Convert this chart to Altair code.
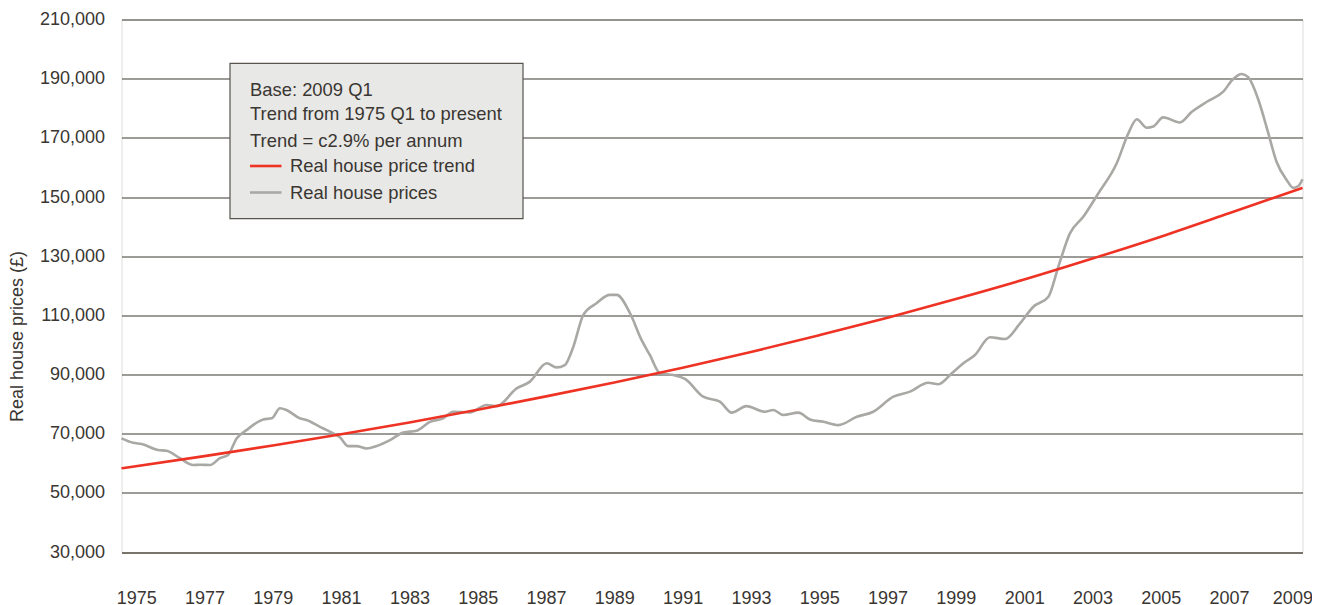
import altair as alt
import pandas as pd

# ---- data (values in £) ----
price_years = [1974.57, 1974.91, 1975.16, 1975.64, 1975.89, 1976.28, 1976.67, 1976.87, 1977.16, 1977.45,
               1977.69, 1977.94, 1978.23, 1978.72, 1978.97, 1979.21, 1979.40, 1979.79, 1979.99, 1980.38,
               1980.67, 1980.97, 1981.21, 1981.45, 1981.75, 1982.04, 1982.43, 1982.82, 1983.21, 1983.60,
               1983.99, 1984.28, 1984.77, 1985.26, 1985.55, 1986.14, 1986.53, 1987.02, 1987.31, 1987.55,
               1987.80, 1988.09, 1988.48, 1988.87, 1989.07, 1989.46, 1989.80, 1990.04, 1990.34, 1990.73,
               1991.07, 1991.60, 1992.09, 1992.44, 1992.87, 1993.41, 1993.65, 1993.95, 1994.39, 1994.73,
               1995.12, 1995.56, 1996.10, 1996.58, 1997.17, 1997.66, 1998.19, 1998.49, 1998.88, 1999.22,
               1999.56, 2000.00, 2000.44, 2000.88, 2001.27, 2001.71, 2002.00, 2002.34, 2002.73, 2003.17,
               2003.71, 2004.05, 2004.30, 2004.59, 2004.78, 2005.07, 2005.56, 2005.91, 2006.35, 2006.83,
               2007.12, 2007.37, 2007.56, 2007.86, 2008.15, 2008.39, 2008.69, 2008.88, 2009.03, 2009.15]
price_values = [68400, 66900, 66500, 64500, 64200, 61700, 59400, 59500, 59400, 61700,
                62800, 68400, 71200, 74800, 75200, 78600, 78000, 75200, 74600, 72300,
                70700, 68700, 65800, 65800, 65000, 65800, 67800, 70400, 71000, 74000,
                75200, 77400, 77200, 79700, 79300, 85300, 87600, 93800, 92400, 93200,
                99400, 110100, 114100, 116900, 116900, 110700, 101600, 96600, 90400, 89800,
                88500, 82500, 80800, 77100, 79300, 77400, 78000, 76300, 77100, 74800,
                74000, 72900, 75700, 77400, 82500, 84200, 87200, 86700, 90400, 93800,
                96600, 102600, 102000, 107300, 112900, 116300, 126400, 137700, 143300, 151200,
                161400, 171500, 176300, 173400, 173800, 176900, 175200, 178800, 182200, 185600,
                189900, 191600, 190500, 182800, 171500, 161900, 155700, 153100, 153700, 156000]

trend_years = [1974.57, 1977, 1979, 1981, 1983, 1985, 1987, 1989, 1991, 1993,
               1995, 1997, 1999, 2001, 2003, 2005, 2007, 2009.15]
trend_values = [58300, 62400, 66000, 69800, 73800, 78100, 82600, 87300, 92300, 97600,
                103300, 109200, 115500, 122100, 129200, 136600, 144500, 153100]

series_names = ["Real house price trend", "Real house prices"]
series_colors = ["#ee3224", "#a9a8a4"]
y_ticks = [30000, 50000, 70000, 90000, 110000, 130000, 150000, 170000, 190000, 210000]
x_ticks = [1975, 1977, 1979, 1981, 1983, 1985, 1987, 1989, 1991, 1993, 1995, 1997,
           1999, 2001, 2003, 2005, 2007, 2009]
note_lines = ["Base: 2009 Q1", "Trend from 1975 Q1 to present", "Trend = c2.9% per annum"]

FONT = "Liberation Sans"
TEXT = "#3a3632"
NOTE_SIZE = 18.4

prices = pd.DataFrame({"year": price_years, "value": price_values, "series": series_names[1]})
trend = pd.DataFrame({"year": trend_years, "value": trend_values, "series": series_names[0]})

color = alt.Color("series:N", scale=alt.Scale(domain=series_names, range=series_colors), legend=None)

x_enc = alt.X("year:Q",
              scale=alt.Scale(domain=[1974.57, 2009.15], nice=False, zero=False),
              axis=alt.Axis(values=x_ticks, format="d", title=None, grid=False, domain=False,
                            ticks=False, labelPadding=37.5, labelFontSize=18, labelFont=FONT,
                            labelColor=TEXT, labelFlush=False, labelOverlap=False,
                            labelOffset={"condition": {"test": "datum.value === 2009", "value": -5},
                                         "value": 0}))
y_enc = alt.Y("value:Q",
              scale=alt.Scale(domain=[30000, 210000], nice=False, zero=False),
              axis=alt.Axis(values=y_ticks, format=",d", title="Real house prices (£)",
                            domain=False, ticks=False, labelPadding=17, labelFontSize=18,
                            labelFont=FONT, labelColor=TEXT,
                            gridColor={"condition": {"test": "datum.value === 30000", "value": "#78746c"},
                                       "value": "#3b3833"},
                            gridWidth={"condition": {"test": "datum.value === 30000", "value": 2.2},
                                       "value": 1.1},
                            titleFont=FONT, titleFontSize=18, titleFontWeight="normal",
                            titleColor=TEXT, titleAngle=270, titleAlign="center",
                            titleBaseline="middle", titleX=-104, titleY=316.5))

price_line = alt.Chart(prices).mark_line(strokeWidth=2.6, interpolate="monotone").encode(
    x=x_enc, y=y_enc, color=color)
trend_line = alt.Chart(trend).mark_line(strokeWidth=2.6, interpolate="monotone").encode(
    x="year:Q", y="value:Q", color=color)

# ---- note box (legend) ----
box = alt.Chart(pd.DataFrame({"k": [0]})).mark_rect(
    fill="#e8e8e6", stroke="#57544e", strokeWidth=1.2).encode(
    x=alt.value(108.5), x2=alt.value(401.5), y=alt.value(43.8), y2=alt.value(199.2))

notes = pd.DataFrame({"text": note_lines, "py": [70.5, 94.5, 121.5]})
note_text = alt.Chart(notes).mark_text(
    align="left", baseline="middle", font=FONT, fontSize=NOTE_SIZE, color=TEXT).encode(
    x=alt.value(128.5), y=alt.Y("py:Q", scale=None), text="text:N")

keys = pd.DataFrame({"series": series_names, "py": [146.5, 173]})
key_lines = alt.Chart(keys).mark_rule(strokeWidth=2.6).encode(
    x=alt.value(128.5), x2=alt.value(160), y=alt.Y("py:Q", scale=None), color=color)
key_text = alt.Chart(keys).mark_text(
    align="left", baseline="middle", font=FONT, fontSize=NOTE_SIZE, color=TEXT).encode(
    x=alt.value(168.5), y=alt.Y("py:Q", scale=None), text="series:N")

chart = alt.layer(price_line, trend_line, box, note_text, key_lines, key_text).properties(
    width=1181, height=532.5,
    autosize=alt.AutoSizeParams(type="none"),
    padding={"left": 113.5, "top": 11.5, "right": 9.5, "bottom": 57},
).configure_view(stroke=None).configure(background="white")

chart.save("out.html", embed_options={"renderer": "svg", "actions": False})
